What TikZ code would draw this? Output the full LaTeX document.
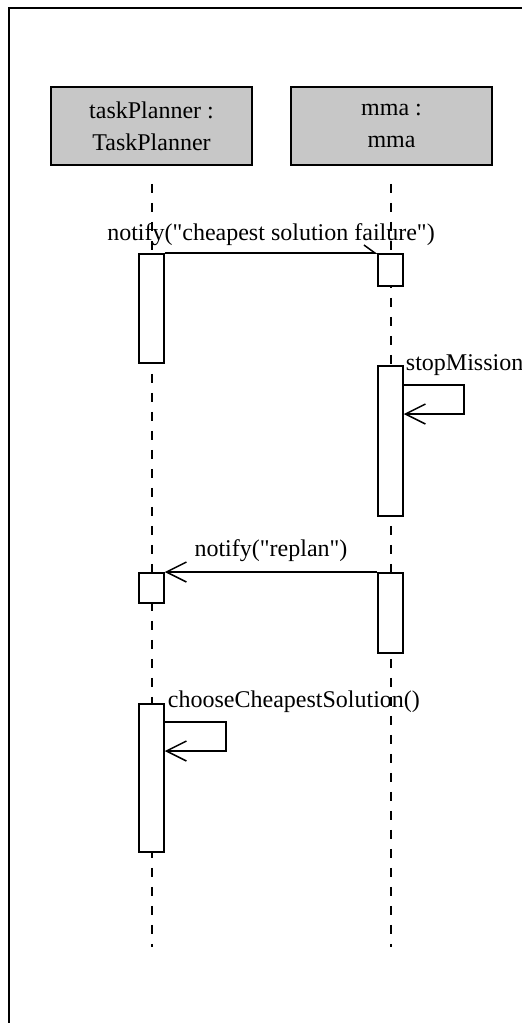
\documentclass[tikz,border=0pt]{standalone}
\usepackage{fontspec}
\setmainfont{Liberation Serif}[Ligatures=TeXOff]
\usetikzlibrary{arrows.meta, positioning}

\begin{document}
\begin{tikzpicture}[
  x=1pt, y=-1pt,
  lifehead/.style={
    rectangle, draw=black, line width=1.5pt, fill=black!22,
    minimum width=201pt, minimum height=78pt, inner sep=0pt,
    align=center, font=\fontsize{24}{32}\selectfont
  },
  activation/.style={
    rectangle, draw=black, line width=1.5pt, fill=white,
    minimum width=25pt, inner sep=0pt
  },
  lifeline/.style={line width=2pt, dash pattern=on 9pt off 10pt},
  msg/.style={line width=1.5pt,
    -{Straight Barb[length=20pt, width=20pt, line width=1.5pt]}},
  halfmsg/.style={line width=1.5pt,
    -{Straight Barb[harpoon, length=11pt, width=16pt, line width=1.5pt]}},
  msglabel/.style={font=\fontsize{24}{28}\selectfont, inner sep=0pt},
]
  \useasboundingbox (0,0) rectangle (522,1023);

  % frame
  \draw[line width=2pt] (9,1023) -- (9,8) -- (522,8);

  % lifeline heads
  \node[lifehead] (tp)  at (151.5,126) {taskPlanner :\\TaskPlanner};
  \node[lifehead] (mma) at (391.5,126) {mma :\\mma};

  \coordinate (tpEnd)  at (151.5,947);
  \coordinate (mmaEnd) at (390.5,947);
  \draw[lifeline] ([yshift=-18pt]tp.south)  -- (tpEnd);
  \draw[lifeline] ([xshift=-1pt,yshift=-18pt]mma.south) -- (mmaEnd);

  % activations
  \node[activation, minimum height=109pt, anchor=north] (tpA1)  at (151.5,253) {};
  \node[activation, minimum height=32pt,  anchor=north] (mmaA1) at (390.5,253) {};
  \node[activation, minimum height=150pt, anchor=north] (mmaA2) at (390.5,365) {};
  \node[activation, minimum height=30pt,  anchor=north] (tpA2)  at (151.5,572) {};
  \node[activation, minimum height=80pt,  anchor=north] (mmaA3) at (390.5,572) {};
  \node[activation, minimum height=148pt, anchor=north] (tpA3)  at (151.5,703) {};

  % messages
  \draw[halfmsg] (tpA1.north east) -- (mmaA1.north west)
    node[msglabel, midway, anchor=base, yshift=13pt] (lblFail)
    {notify("cheapest solution failure")};

  \draw[msg] ([yshift=-20pt]mmaA2.north east) -- ++(60,0) -- ++(0,29) -- ++(-60,0);
  \node[msglabel, anchor=base west, xshift=2pt, yshift=-5pt] (lblStop)
    at (mmaA2.north east) {stopMission()};

  \draw[msg] (mmaA3.north west) -- (tpA2.north east)
    node[msglabel, midway, anchor=base, yshift=16pt] (lblReplan)
    {notify("replan")};

  \draw[msg] ([yshift=-19pt]tpA3.north east) -- ++(61,0) -- ++(0,29) -- ++(-61,0);
  \node[msglabel, anchor=base west, xshift=3pt, yshift=-4pt] (lblChoose)
    at (tpA3.north east) {chooseCheapestSolution()};
\end{tikzpicture}
\end{document}
